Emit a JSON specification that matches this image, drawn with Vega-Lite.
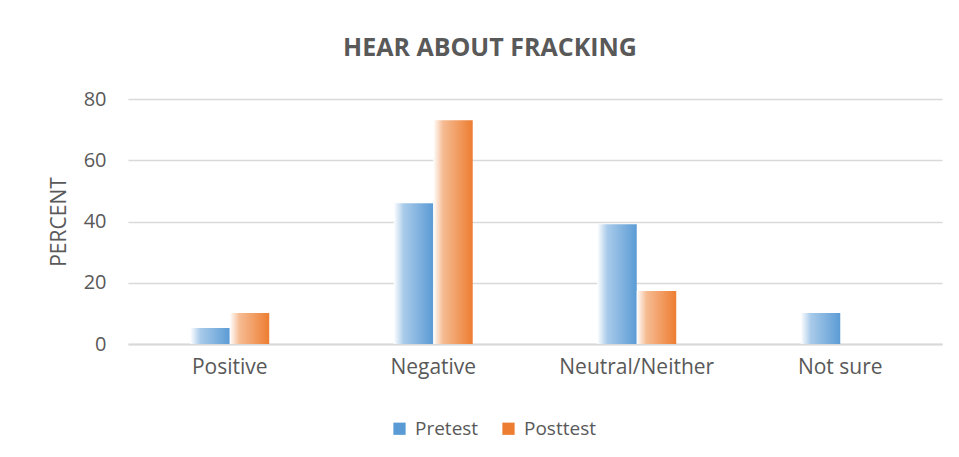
{
  "$schema": "https://vega.github.io/schema/vega-lite/v6.json",
  "width": 814,
  "height": 245,
  "autosize": "none",
  "padding": {"left": 128, "top": 99, "right": 17, "bottom": 113},
  "background": "white",
  "title": {
    "text": "HEAR ABOUT FRACKING",
    "font": "Open Sans",
    "fontSize": 25,
    "fontWeight": "bold",
    "color": "#595959",
    "anchor": "middle",
    "dx": -45,
    "offset": 28
  },
  "data": {
    "values": [
      {"response": "Positive", "test": "Pretest", "percent": 5.2},
      {"response": "Positive", "test": "Posttest", "percent": 10.1},
      {"response": "Negative", "test": "Pretest", "percent": 46},
      {"response": "Negative", "test": "Posttest", "percent": 73.1},
      {"response": "Neutral/Neither", "test": "Pretest", "percent": 39.1},
      {"response": "Neutral/Neither", "test": "Posttest", "percent": 17.3},
      {"response": "Not sure", "test": "Pretest", "percent": 10.1},
      {"response": "Not sure", "test": "Posttest", "percent": 0}
    ]
  },
  "mark": {"type": "bar"},
  "encoding": {
    "x": {
      "field": "response",
      "type": "nominal",
      "sort": ["Positive", "Negative", "Neutral/Neither", "Not sure"],
      "scale": {"paddingInner": 0.612, "paddingOuter": 0.306},
      "axis": {
        "title": null,
        "labelAngle": 0,
        "labelFont": "Open Sans",
        "labelFontSize": 21,
        "labelColor": "#595959",
        "labelPadding": 12,
        "ticks": false,
        "domainColor": "#D9D9D9",
        "domainWidth": 2,
        "grid": false
      }
    },
    "xOffset": {"field": "test", "type": "nominal", "sort": ["Pretest", "Posttest"]},
    "y": {
      "field": "percent",
      "type": "quantitative",
      "scale": {"domain": [0, 80]},
      "axis": {
        "title": "PERCENT",
        "titleFont": "Open Sans",
        "titleFontSize": 21,
        "titleFontWeight": "normal",
        "titleColor": "#595959",
        "titlePadding": 14,
        "values": [0, 20, 40, 60, 80],
        "labelFont": "Open Sans",
        "labelFontSize": 20,
        "labelColor": "#595959",
        "labelPadding": 22,
        "ticks": false,
        "domain": false,
        "grid": true,
        "gridColor": "#D9D9D9",
        "gridWidth": 1.5
      }
    },
    "color": {
      "condition": [
        {"test": "datum.test === 'Pretest'", "value": {"gradient": "linear", "x1": 0, "y1": 0, "x2": 1, "y2": 0, "stops": [{"offset": 0, "color": "#ffffff"}, {"offset": 0.25, "color": "#A9CBEA"}, {"offset": 1, "color": "#5B9BD5"}]}},
        {"test": "datum.test === 'Posttest'", "value": {"gradient": "linear", "x1": 0, "y1": 0, "x2": 1, "y2": 0, "stops": [{"offset": 0, "color": "#ffffff"}, {"offset": 0.25, "color": "#F6BB92"}, {"offset": 1, "color": "#ED7D31"}]}}
      ],
      "field": "test",
      "type": "nominal",
      "scale": {"domain": ["Pretest", "Posttest"], "range": ["#5B9BD5", "#ED7D31"]},
      "legend": {
        "title": null,
        "orient": "none",
        "direction": "horizontal",
        "legendX": 262,
        "legendY": 320,
        "symbolType": "square",
        "symbolSize": 150,
        "labelFont": "Open Sans",
        "labelFontSize": 19,
        "labelColor": "#595959",
        "columnPadding": 20,
        "labelOffset": 6,
        "encode": {
          "symbols": {
            "update": {
              "fill": {"signal": "datum.value === 'Pretest' ? {gradient: 'linear', x1: 0, y1: 0, x2: 1, y2: 0, stops: [{offset: 0, color: '#ffffff'}, {offset: 0.3, color: '#A9CBEA'}, {offset: 1, color: '#5B9BD5'}]} : {gradient: 'linear', x1: 0, y1: 0, x2: 1, y2: 0, stops: [{offset: 0, color: '#ffffff'}, {offset: 0.3, color: '#F6BB92'}, {offset: 1, color: '#ED7D31'}]}"},
              "strokeWidth": {"value": 0}
            }
          }
        }
      }
    }
  },
  "config": {
    "view": {"stroke": null},
    "legend": {"symbolOpacity": 1}
  }
}
